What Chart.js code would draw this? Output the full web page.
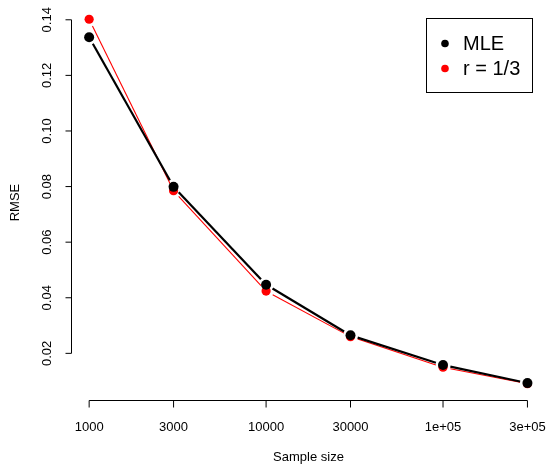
<!DOCTYPE html>
<html>
<head>
<meta charset="utf-8">
<script src="https://cdn.jsdelivr.net/npm/chart.js@4/dist/chart.umd.min.js"></script>
<style>
  html, body { margin: 0; padding: 0; background: #ffffff; }
  #wrap { width: 550px; height: 466px; }
</style>
</head>
<body>
<div id="wrap"><canvas id="c" width="550" height="466"></canvas></div>
<script>
// ---- data ----
const sampleSizes = [1000, 3000, 10000, 30000, 100000, 300000];
const xTickLabels = ['1000', '3000', '10000', '30000', '1e+05', '3e+05'];
const mleRMSE = [0.1337, 0.0799, 0.0447, 0.0265, 0.0158, 0.0093];
const rThirdRMSE = [0.1402, 0.0785, 0.0424, 0.0260, 0.0150, 0.0091];
const yTicks = [0.02, 0.04, 0.06, 0.08, 0.10, 0.12, 0.14];
const yTickLabels = ['0.02', '0.04', '0.06', '0.08', '0.10', '0.12', '0.14'];
const seriesLabels = ['MLE', 'r = 1/3'];
const xTitle = 'Sample size';
const yTitle = 'RMSE';

const FONT = '"Liberation Sans", Arial, Helvetica, sans-serif';
const GAP = 7.5;

function gapDash(ctx) {
  const L = Math.hypot(ctx.p1.x - ctx.p0.x, ctx.p1.y - ctx.p0.y);
  return [0, GAP, Math.max(L - 2 * GAP, 0), GAP + 2000];
}

function toPoints(xs, ys) {
  return xs.map((x, i) => ({ x: x, y: ys[i] }));
}

const rAxesPlugin = {
  id: 'rAxes',
  afterDraw(chart) {
    const ctx = chart.ctx;
    const xs = chart.scales.x, ys = chart.scales.y;
    const area = chart.chartArea;
    ctx.save();
    ctx.strokeStyle = '#000';
    ctx.fillStyle = '#000';
    ctx.lineWidth = 1;
    // x axis
    const xAxisY = Math.round(area.bottom) + 0.5;
    const x0 = xs.getPixelForValue(sampleSizes[0]);
    const x1 = xs.getPixelForValue(sampleSizes[sampleSizes.length - 1]);
    ctx.beginPath();
    ctx.moveTo(x0, xAxisY); ctx.lineTo(x1, xAxisY);
    sampleSizes.forEach(v => {
      const px = xs.getPixelForValue(v);
      ctx.moveTo(px, xAxisY); ctx.lineTo(px, xAxisY + 7);
    });
    ctx.stroke();
    ctx.font = '13px ' + FONT;
    ctx.textAlign = 'center';
    ctx.textBaseline = 'middle';
    sampleSizes.forEach((v, i) => {
      ctx.fillText(xTickLabels[i], xs.getPixelForValue(v), 427);
    });
    // y axis
    const yAxisX = Math.round(area.left) - 0.5;
    const yA = ys.getPixelForValue(yTicks[0]);
    const yB = ys.getPixelForValue(yTicks[yTicks.length - 1]);
    ctx.beginPath();
    ctx.moveTo(yAxisX, yA); ctx.lineTo(yAxisX, yB);
    yTicks.forEach(v => {
      const py = ys.getPixelForValue(v);
      ctx.moveTo(yAxisX, py); ctx.lineTo(yAxisX - 6, py);
    });
    ctx.stroke();
    yTicks.forEach((v, i) => {
      const py = ys.getPixelForValue(v);
      ctx.save();
      ctx.translate(47, py);
      ctx.rotate(-Math.PI / 2);
      ctx.textAlign = 'center';
      ctx.textBaseline = 'middle';
      ctx.fillText(yTickLabels[i], 0, 0);
      ctx.restore();
    });
    // titles
    ctx.textAlign = 'center';
    ctx.textBaseline = 'middle';
    ctx.fillText(xTitle, (area.left + area.right) / 2, 457);
    ctx.save();
    ctx.translate(15, (area.top + area.bottom) / 2);
    ctx.rotate(-Math.PI / 2);
    ctx.fillText(yTitle, 0, 0);
    ctx.restore();
    // legend
    const ds = chart.data.datasets;
    ctx.strokeRect(426.5, 18.5, 106, 74);
    ctx.font = '20px ' + FONT;
    ctx.textAlign = 'left';
    ctx.textBaseline = 'middle';
    ds.forEach((d, i) => {
      const cy = 43.5 + i * 25;
      ctx.beginPath();
      ctx.fillStyle = d.pointBackgroundColor;
      ctx.arc(445, cy, 3.8, 0, Math.PI * 2);
      ctx.fill();
      ctx.fillStyle = '#000';
      ctx.fillText(d.label, 463, cy + 1);
    });
    ctx.restore();
  }
};

new Chart(document.getElementById('c'), {
  type: 'line',
  data: {
    datasets: [
      {
        label: seriesLabels[0],
        data: toPoints(sampleSizes, mleRMSE),
        borderColor: '#000000',
        borderWidth: 2.2,
        pointRadius: 5,
        pointBackgroundColor: '#000000',
        pointBorderWidth: 0,
        segment: { borderDash: gapDash }
      },
      {
        label: seriesLabels[1],
        data: toPoints(sampleSizes, rThirdRMSE),
        borderColor: '#FF0000',
        borderWidth: 1.1,
        pointRadius: 4.6,
        pointBackgroundColor: '#FF0000',
        pointBorderWidth: 0,
        segment: { borderDash: gapDash }
      }
    ]
  },
  options: {
    responsive: false,
    animation: false,
    devicePixelRatio: 1,
    layout: { padding: { left: 72, right: 4, top: 4.5, bottom: 66 } },
    plugins: { legend: { display: false }, tooltip: { enabled: false } },
    scales: {
      x: { type: 'logarithmic', min: 800, max: 377000, display: false },
      y: { type: 'linear', min: 0.00322, max: 0.14532, display: false }
    }
  },
  plugins: [rAxesPlugin]
});
</script>
</body>
</html>
